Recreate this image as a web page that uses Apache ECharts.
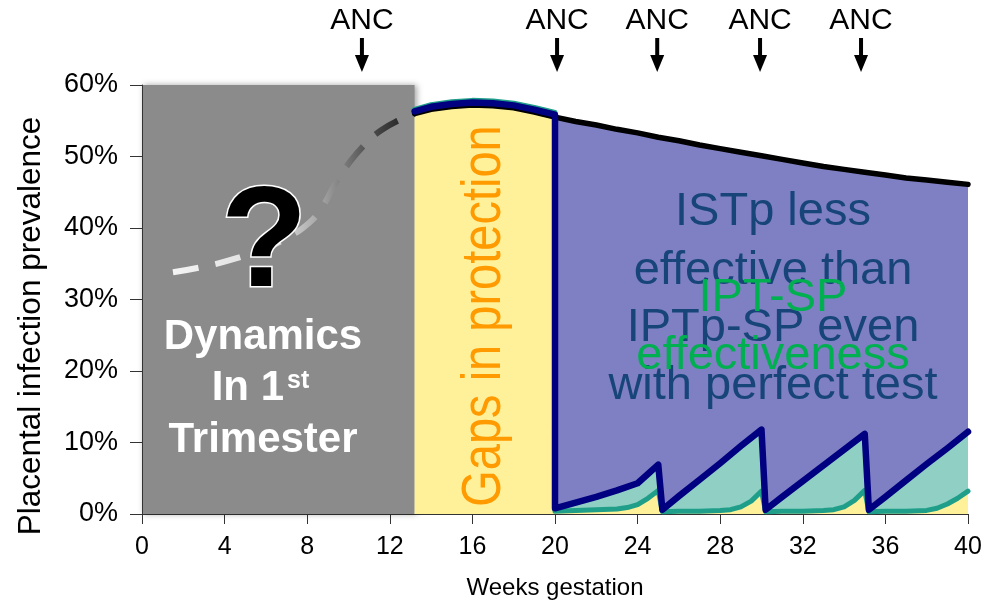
<!DOCTYPE html>
<html><head><meta charset="utf-8">
<script src="https://cdn.jsdelivr.net/npm/echarts@6/dist/echarts.min.js"></script>
<style>html,body{margin:0;padding:0;background:#fff}#c{width:996px;height:602px}</style>
</head><body><div id="c"></div>
<script>
// ---- data ----
const trimesterEnd = 13.2;
const earlyWeeks = [1.5, 3, 4.5, 6, 7, 8, 8.7, 9.4, 10, 10.8, 11.6, 12.6, 13.2];
const earlyPct   = [33.8, 34.6, 35.7, 37.2, 38.6, 40.5, 42.8, 46.4, 49.0, 51.7, 53.7, 55.3, 56.0];

const baseWeeks = [13.2,14,15,16,17,18,19,20,21,22,23,24,25,26,27,28,29,30,31,32,33,34,35,36,37,38,39,40];
const basePct   = [56.0,56.6,57.0,57.2,57.1,56.8,56.2,55.5,54.9,54.4,53.8,53.3,52.7,52.2,51.6,51.1,50.6,50.1,49.6,49.1,48.6,48.2,47.8,47.4,47.0,46.7,46.4,46.1];

const istpWeeks = [13.2,14,15,16,17,18,19,20, 20,21,22,23,24,24.5,25, 25.2,26,27,28,29,30, 30.2,31,32,33,34,35, 35.2,36,37,38,39,40];
const istpPct   = [56.3,56.95,57.35,57.55,57.45,57.15,56.55,55.85, 0.8,1.6,2.4,3.3,4.3,5.6,6.9, 0.6,2.5,4.8,7.1,9.5,11.8, 0.6,2.4,4.6,6.8,9.0,11.2, 0.6,2.4,4.7,7.0,9.2,11.5];

const iptWeeks = [13.2,14,15,16,17,18,19,20, 20,21,22,23,23.5,24,24.5,25, 25.2,26,27,28,28.5,29,29.5,30, 30.2,31,32,33,33.5,34,34.5,35, 35.2,36,37,38,38.5,39,39.5,40];
const iptPct   = [56.6,57.25,57.65,57.85,57.75,57.45,56.85,56.15, 0.4,0.5,0.6,0.7,0.9,1.3,2.2,3.3, 0.3,0.4,0.4,0.5,0.6,1.0,1.8,3.2, 0.3,0.4,0.4,0.5,0.6,1.0,1.9,3.3, 0.3,0.4,0.4,0.5,0.8,1.4,2.2,3.2];

const ancWeeks = [10.65, 20.1, 24.95, 29.93, 34.82];
const ancLabel = 'ANC';

// ---- build ----
const FONT = 'Liberation Sans, Arial, sans-serif';
const pairs = (w, v) => w.map((x, i) => [x, v[i]]);
const afterDrop = (w, v) => { const k = v.findIndex((y, i) => i > 0 && y < 5); return pairs(w, v).slice(k); };

const early = pairs(earlyWeeks, earlyPct);
const base = pairs(baseWeeks, basePct);
const istp = pairs(istpWeeks, istpPct);
const ipt = pairs(iptWeeks, iptPct);
const basePost = base.filter(p => p[0] >= 20);
const istpPost = afterDrop(istpWeeks, istpPct);
const iptPost = afterDrop(iptWeeks, iptPct);

const noLine = { width: 0, opacity: 0 };
const areaSeries = (data, color) => ({
  type: 'line', data, showSymbol: false, silent: true, animation: false,
  lineStyle: noLine, areaStyle: { color, opacity: 1 }
});
const lineSeries = (data, color, width) => ({
  type: 'line', data, showSymbol: false, silent: true, animation: false,
  lineStyle: { color, width, cap: 'round', join: 'round' }
});

const chart = echarts.init(document.getElementById('c'), null, { renderer: 'canvas' });
chart.setOption({
  animation: false,
  backgroundColor: '#fff',
  grid: { left: 142, right: 28, top: 85, bottom: 88, containLabel: false, outerBoundsMode: 'none' },
  xAxis: {
    type: 'value', min: 0, max: 40, interval: 4,
    name: 'Weeks gestation', nameLocation: 'middle', nameGap: 62,
    nameTextStyle: { fontFamily: FONT, fontSize: 24, color: '#000' },
    axisLine: { show: true, lineStyle: { color: '#333', width: 1 } },
    axisTick: { show: true, length: 10, lineStyle: { color: '#333' } },
    axisLabel: { fontFamily: FONT, fontSize: 25, color: '#000', margin: 21 },
    splitLine: { show: false }
  },
  yAxis: {
    type: 'value', min: 0, max: 60, interval: 10, z: 10,
    axisLine: { show: true, lineStyle: { color: '#333', width: 1 } },
    axisTick: { show: true, length: 12, lineStyle: { color: '#333' } },
    axisLabel: { fontFamily: FONT, fontSize: 27, color: '#000', margin: 24, formatter: '{value}%' },
    splitLine: { show: false }
  },
  series: [
    {
      type: 'line', data: early, smooth: true, showSymbol: false, silent: true, animation: false,
      lineStyle: {
        width: 6, type: [26, 17],
        color: new echarts.graphic.LinearGradient(0, 0, 1, 0, [
          { offset: 0, color: '#f4f4f4' },
          { offset: 0.45, color: '#dadada' },
          { offset: 0.62, color: '#a0a0a0' },
          { offset: 0.8, color: '#505050' },
          { offset: 1, color: '#151515' }
        ])
      },
      markArea: {
        silent: true,
        itemStyle: { color: '#8b8b8b', shadowBlur: 6, shadowColor: 'rgba(0,0,0,0.35)', shadowOffsetX: 2 },
        data: [[{ coord: [0, 0] }, { coord: [trimesterEnd, 60] }]]
      }
    },
    areaSeries(base, '#fff199'),
    areaSeries(basePost, '#7f7fc4'),
    areaSeries(istpPost, '#90cfc3'),
    areaSeries(iptPost, '#fff199'),
    lineSeries(base, '#000', 5.5),
    lineSeries(ipt, '#1f9f8a', 5),
    lineSeries(istp, '#000080', 6.5)
  ]
});

// ---- annotations ----
const g = [];
ancWeeks.forEach(w => {
  const x = chart.convertToPixel({ xAxisIndex: 0 }, w);
  g.push({ type: 'text', z: 100, style: { text: ancLabel, x: x, y: 21, align: 'center', verticalAlign: 'middle', font: '30px ' + FONT, fill: '#000' } });
  g.push({ type: 'rect', z: 100, shape: { x: x - 2, y: 38, width: 4, height: 19 }, style: { fill: '#000' } });
  g.push({ type: 'polygon', z: 100, shape: { points: [[x - 7, 55], [x + 7, 55], [x, 72]] }, style: { fill: '#000' } });
});
// y-axis title
g.push({ type: 'text', z: 100, x: 31, y: 326, rotation: Math.PI / 2, style: { text: 'Placental infection prevalence', x: 0, y: 0, align: 'center', verticalAlign: 'middle', font: '31.5px ' + FONT, fill: '#000' } });
g.push({ type: 'text', z: 100, style: { text: '?', x: 264, y: 247, align: 'center', verticalAlign: 'middle', font: 'bold 142px ' + FONT, fill: '#000', stroke: '#fff', lineWidth: 3, shadowBlur: 4, shadowColor: 'rgba(0,0,0,0.4)', shadowOffsetX: 2, shadowOffsetY: 2 } });
const white = { fill: '#fff', font: 'bold 42px ' + FONT, verticalAlign: 'middle' };
g.push({ type: 'text', z: 100, style: Object.assign({ text: 'Dynamics', x: 263, y: 337, align: 'center' }, white) });
g.push({ type: 'text', z: 100, style: Object.assign({ text: 'In 1', x: 284, y: 388, align: 'right' }, white) });
g.push({ type: 'text', z: 100, style: { text: 'st', x: 287, y: 381, align: 'left', verticalAlign: 'middle', font: 'bold 25px ' + FONT, fill: '#fff' } });
g.push({ type: 'text', z: 100, style: Object.assign({ text: 'Trimester', x: 263, y: 440, align: 'center' }, white) });
g.push({ type: 'text', z: 100, x: 485, y: 316, rotation: Math.PI / 2, scaleY: 1.18, style: { text: 'Gaps in protection', x: 0, y: 0, align: 'center', verticalAlign: 'middle', font: '47px ' + FONT, fill: '#ff9a00' } });
const blueTxt = ['ISTp less', 'effective than', 'IPTp-SP even', 'with perfect test'];
const blueY = [212, 271, 328, 386];
blueTxt.forEach((t, i) => g.push({ type: 'text', z: 100, style: { text: t, x: 773, y: blueY[i], align: 'center', verticalAlign: 'middle', font: '47px ' + FONT, fill: '#17457a' } }));
const greenTxt = ['IPT-SP', 'effectiveness'];
const greenY = [298, 356];
greenTxt.forEach((t, i) => g.push({ type: 'text', z: 101, style: { text: t, x: 773, y: greenY[i], align: 'center', verticalAlign: 'middle', font: '47px ' + FONT, fill: '#00b050' } }));
chart.setOption({ graphic: { elements: g } });
</script></body></html>
